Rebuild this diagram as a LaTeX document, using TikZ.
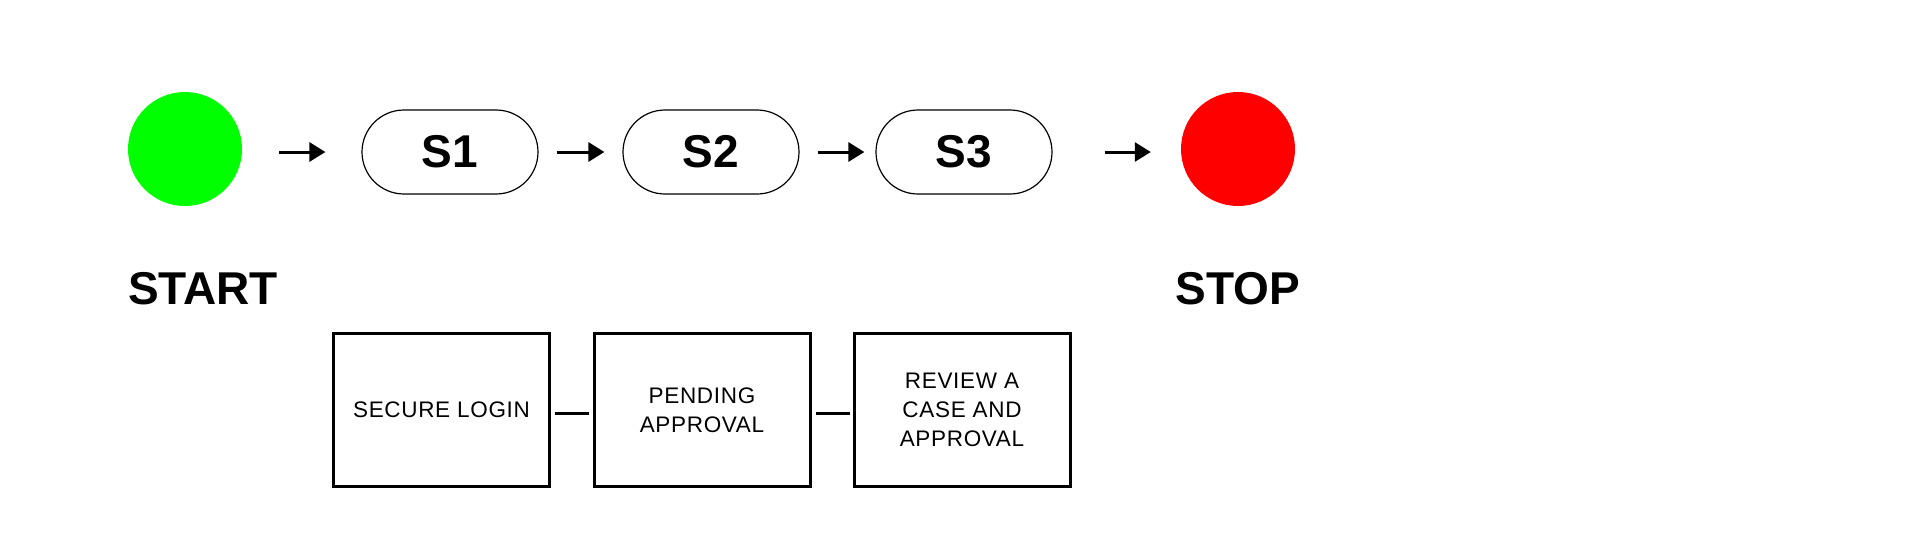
\documentclass[tikz,border=0pt]{standalone}
\usepackage{fontspec}
\setmainfont{Liberation Sans}
\newfontfamily\boxfont[LetterSpace=3]{Liberation Sans}
\usetikzlibrary{arrows.meta}
\begin{document}
\begin{tikzpicture}[x=1pt,y=-1pt,
  dot/.style={circle, minimum size=114pt, inner sep=0pt},
  state/.style={draw, line width=1.2pt, rounded corners=42pt, minimum width=176pt, minimum height=84pt, inner sep=0pt, font=\fontsize{46}{50}\selectfont\bfseries},
  biglabel/.style={font=\fontsize{46}{50}\selectfont\bfseries, anchor=base},
  task/.style={draw, line width=3pt, minimum width=216pt, minimum height=153pt, inner sep=0pt, align=center, font=\fontsize{22.5}{29}\boxfont},
  flow/.style={line width=3pt, -{Triangle[length=16pt,width=19pt]}},
  link/.style={line width=3pt}]
\useasboundingbox (0,0) rectangle (1920,555);

\node[dot, fill={rgb,255:red,0;green,255;blue,0}] (start) at (185,149) {};
\node[dot, fill={rgb,255:red,255;green,0;blue,0}] (stop) at (1238,149) {};

\node[state] (s1) at (450,152) {S1};
\node[state] (s2) at (711,152) {S2};
\node[state] (s3) at (964,152) {S3};

\draw[flow, shorten <=37pt, shorten >=36pt] (start.east |- s1.west) -- (s1.west);
\draw[flow, shorten <=18pt, shorten >=18pt] (s1) -- (s2);
\draw[flow, shorten <=18pt, shorten >=11pt] (s2) -- (s3);
\draw[flow, shorten <=52pt, shorten >=30pt] (s3.east) -- (s3.east -| stop.west);

\node[biglabel] (startlbl) at (203,304) {START};
\node[biglabel] (stoplbl) at (1238,304) {STOP};

\node[task] (t1) at (441.5,410) {SECURE LOGIN};
\node[task] (t2) at (702,410) {PENDING\\APPROVAL};
\node[task] (t3) at (962,410) {REVIEW A\\CASE AND\\APPROVAL};

\draw[link, shorten <=4pt, shorten >=4pt] ([yshift=-3pt]t1.east) -- ([yshift=-3pt]t2.west);
\draw[link, shorten <=4pt, shorten >=3pt] ([yshift=-3pt]t2.east) -- ([yshift=-3pt]t3.west);
\end{tikzpicture}
\end{document}
